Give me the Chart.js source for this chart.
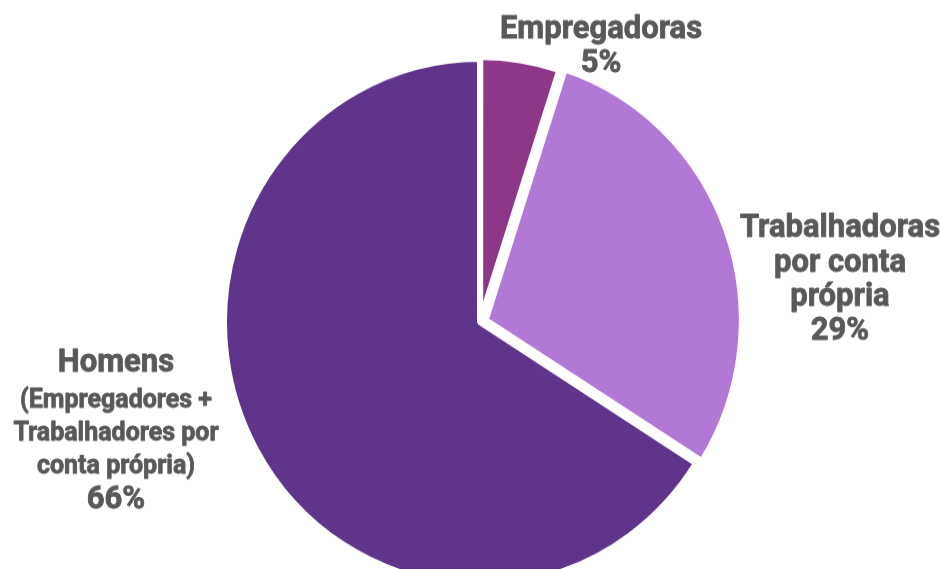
<!DOCTYPE html>
<html lang="pt">
<head>
    <meta charset="UTF-8">
    <title>Empregadoras e trabalhadoras por conta própria</title>
    <script src="https://cdn.jsdelivr.net/npm/chart.js"></script>
    <style>
        html, body { margin: 0; padding: 0; background: #ffffff; }
        .chart-container {
            position: relative;
            width: 941px;
            height: 569px;
        }
        /* drawing surface is a bit shorter and gets stretched to the box */
        #pieChart {
            display: block;
            width: 941px;
            height: 569px;
        }
    </style>
</head>
<body>
    <div class="chart-container">
        <canvas id="pieChart" width="941" height="553" style="width:941px;height:569px"></canvas>
    </div>

    <script>
        // Categories and shares (%)
        const categories = ['Empregadoras', 'Trabalhadoras por conta própria', 'Homens'];
        const shares = [5, 29, 66];
        // Label lines shown next to each slice (last line is the share)
        const labelLines = [
            ['Empregadoras'],
            ['Trabalhadoras', 'por conta', 'própria'],
            ['Homens', '(Empregadores +', 'Trabalhadores por', 'conta própria)']
        ];

        const sliceColors = ['#8e3789', '#b178d6', '#5e358a'];
        const sliceOffsets = [4, 24, 0];

        // Where each label block sits: centre x, first line y, line sizes
        const labelLayout = [
            { x: 601, y: 29, sizes: [31, 31] },
            { x: 840, y: 222, sizes: [31, 31, 31, 31] },
            { x: 116, y: 353, sizes: [31, 25, 25, 25, 31] }
        ];
        const lineGaps = [
            [33],
            [34, 33, 33],
            [37, 32, 32, 32]
        ];

        const sliceLabels = {
            id: 'sliceLabels',
            afterDatasetsDraw(chart) {
                const ctx = chart.ctx;
                ctx.save();
                ctx.fillStyle = '#595959';
                ctx.strokeStyle = '#595959';
                ctx.lineWidth = 0.8;
                ctx.lineJoin = 'round';
                ctx.textAlign = 'center';
                ctx.textBaseline = 'middle';
                labelLines.forEach((lines, i) => {
                    const all = lines.concat([shares[i] + '%']);
                    const lay = labelLayout[i];
                    let y = lay.y;
                    all.forEach((text, j) => {
                        ctx.font = 'bold ' + lay.sizes[j] + 'px Roboto';
                        ctx.fillText(text, lay.x, y);
                        ctx.strokeText(text, lay.x, y);
                        if (j < lineGaps[i].length) y += lineGaps[i][j];
                    });
                });
                ctx.restore();
            }
        };

        const ctx = document.getElementById('pieChart').getContext('2d');
        new Chart(ctx, {
            type: 'pie',
            data: {
                labels: categories,
                datasets: [{
                    data: shares,
                    backgroundColor: sliceColors,
                    borderColor: '#ffffff',
                    borderWidth: 6,
                    offset: sliceOffsets,
                    hoverOffset: 0,
                    clip: false
                }]
            },
            options: {
                responsive: false,
                animation: false,
                events: [],
                devicePixelRatio: 1,
                radius: 256,
                layout: {
                    padding: { left: 19, right: 0, top: 73, bottom: 0 }
                },
                plugins: {
                    legend: { display: false },
                    tooltip: { enabled: false }
                }
            },
            plugins: [sliceLabels]
        });
    </script>
</body>
</html>
